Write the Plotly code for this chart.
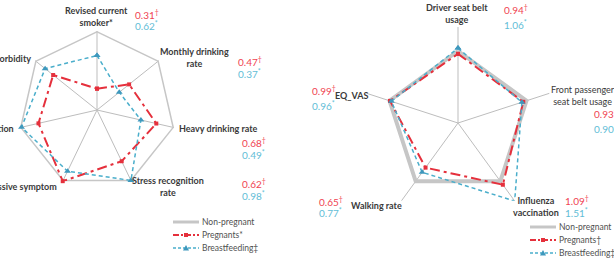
import plotly.graph_objects as go

W, H = 614, 260

# ---------------- data ----------------
left_axes = ["Revised current smoker", "Monthly drinking rate", "Heavy drinking rate",
             "Stress recognition rate", "Depressive symptom", "Suicidal ideation", "Comorbidity"]
left_nonpreg = [1, 1, 1, 1, 1, 1, 1]
left_preg = [0.27, 0.52, 0.77, 0.72, 1.00, 0.76, 0.71]
left_breast = [0.69, 0.36, 0.57, 0.99, 0.86, 0.98, 0.84]
left_preg_ratio = [0.31, 0.47, 0.68, 0.62]
left_breast_ratio = [0.62, 0.37, 0.49, 0.98]

right_axes = ["Driver seat belt usage", "Front passenger seat belt usage",
              "Influenza vaccination", "Walking rate", "EQ_VAS"]
right_nonpreg = [1, 1, 1, 1, 1]
right_preg = [0.94, 0.93, 1.09, 0.65, 0.99]
right_breast = [1.06, 0.90, 1.51, 0.77, 0.96]

series_names_left = ["Non-pregnant", "Pregnants*", "Breastfeeding\u2021"]
series_names_right = ["Non-pregnant", "Pregnants\u2020", "Breastfeeding\u2021"]

# ---------------- styles ----------------
GRAY = "#c6c6c6"
RED = "#e5303c"
BLUE = "#4aaecb"
RED_T = "#f04452"
BLUE_T = "#62bdd6"
LABEL = "#3a3a3a"
FONT = "Lato"


def px(x):
    return x / W


def py(y):
    return 1 - y / H


def closed(v):
    return list(v) + [v[0]]


fig = go.Figure()


def add_radar(subplot, axes, nonpreg, preg, breast, gray_w):
    th = closed(axes)
    fig.add_trace(go.Scatterpolar(r=closed(nonpreg), theta=th, mode="lines", subplot=subplot,
                                  line=dict(color=GRAY, width=gray_w), showlegend=False,
                                  cliponaxis=False))
    fig.add_trace(go.Scatterpolar(r=closed(preg), theta=th, mode="lines+markers", subplot=subplot,
                                  line=dict(color=RED, width=2, dash="10px,4px,3px,4px"),
                                  marker=dict(symbol="square", size=4, color=RED),
                                  showlegend=False, cliponaxis=False))
    fig.add_trace(go.Scatterpolar(r=closed(breast), theta=th, mode="lines+markers", subplot=subplot,
                                  line=dict(color=BLUE, width=1.5, dash="4px,3px"),
                                  marker=dict(symbol="triangle-up", size=6, color="#3e98bd"),
                                  showlegend=False, cliponaxis=False))


add_radar("polar", left_axes, left_nonpreg, left_preg, left_breast, 3)
add_radar("polar2", right_axes, right_nonpreg, right_preg, right_breast, 4)


def polar_cfg(cx, cy, R, rng, axes):
    return dict(
        domain=dict(x=[px(cx - R), px(cx + R)], y=[py(cy + R), py(cy - R)]),
        gridshape="linear",
        bgcolor="rgba(0,0,0,0)",
        radialaxis=dict(range=rng, visible=False, showgrid=False),
        angularaxis=dict(type="category", categoryarray=axes, direction="clockwise", rotation=90,
                         showgrid=True, gridcolor="#bdbdbd", gridwidth=1, showline=False,
                         showticklabels=False, ticks=""),
    )


annotations = []


def label(text, x, y, anchor="center", bold=True, color=LABEL, size=9):
    annotations.append(dict(text=("<b>%s</b>" % text) if bold else text, x=px(x), y=py(y),
                            xref="paper", yref="paper", xanchor=anchor, yanchor="middle",
                            showarrow=False, align="center",
                            font=dict(family=FONT, size=size, color=color)))


def ratio_pair(p, b, x, y1, y2, sym_p="\u2020", sym_b="*"):
    label("%.2f<sup>%s</sup>" % (p, sym_p), x, y1, "left", bold=False, color=RED_T, size=10)
    label("%.2f<sup>%s</sup>" % (b, sym_b), x, y2, "left", bold=False, color=BLUE_T, size=10)


# left chart axis labels
label("Revised current<br>smoker*", 97, 16)
label("Monthly drinking<br>rate", 195, 58)
label("Heavy drinking rate", 177, 128, "left")
label("Stress recognition<br>rate", 168, 186)
label("Depressive symptom", 59, 186, "right")
label("Suicidal ideation", 16, 128, "right")
label("Comorbidity", 33, 59, "right")

ratio_pair(left_preg_ratio[0], left_breast_ratio[0], 133, 14, 26)
ratio_pair(left_preg_ratio[1], left_breast_ratio[1], 236, 61, 73)
ratio_pair(left_preg_ratio[2], left_breast_ratio[2], 240, 142, 154)
ratio_pair(left_preg_ratio[3], left_breast_ratio[3], 240, 183, 195)

# right chart axis labels
label("Driver seat belt<br>usage", 457, 13)
label("Front passenger<br>seat belt usage", 583, 95, bold=False)
label("Influenza<br>vaccination", 536, 206)
label("Walking rate", 349, 205, "left")
label("EQ_VAS", 333, 95, "left")

ratio_pair(right_preg[0], right_breast[0], 502, 10, 25)
ratio_pair(right_preg[1], right_breast[1], 592, 113, 128)
ratio_pair(right_preg[2], right_breast[2], 563, 200, 212)
ratio_pair(right_preg[3], right_breast[3], 317, 201, 212)
ratio_pair(right_preg[4], right_breast[4], 310, 90, 105)

# manual legends
shapes = []


def legend(x0, y0, names):
    styles = [(GRAY, 3, "solid", None), (RED, 2, "6px,2px,2px,2px", "square"),
              (BLUE, 1.5, "3px,2px", "triangle")]
    for i, (name, st) in enumerate(zip(names, styles)):
        y = y0 + i * 13
        col, w, dash, mk = st
        shapes.append(dict(type="line", xref="paper", yref="paper", x0=px(x0), x1=px(x0 + 26),
                           y0=py(y), y1=py(y), line=dict(color=col, width=w, dash=dash)))
        xm = x0 + 13
        if mk == "square":
            shapes.append(dict(type="rect", xref="paper", yref="paper", x0=px(xm - 2), x1=px(xm + 2),
                               y0=py(y + 2), y1=py(y - 2), fillcolor=col, line=dict(width=0)))
        elif mk == "triangle":
            shapes.append(dict(type="path", xref="paper", yref="paper",
                               path="M %f,%f L %f,%f L %f,%f Z" % (px(xm - 3), py(y + 2.5), px(xm + 3), py(y + 2.5), px(xm), py(y - 3)),
                               fillcolor="#3e98bd", line=dict(width=0)))
        label(name, x0 + 27, y, "left", bold=False, color="#505050", size=8.5)


legend(173, 222, series_names_left)
legend(530, 227, series_names_right)

fig.update_layout(
    width=W, height=H, margin=dict(l=0, r=0, t=0, b=0),
    paper_bgcolor="white", plot_bgcolor="white",
    polar=polar_cfg(97, 110, 79, [0, 1], left_axes),
    polar2=polar_cfg(458, 123, 96, [-0.5, 1.5], right_axes),
    annotations=annotations, shapes=shapes, showlegend=False,
    font=dict(family=FONT),
)

fig.write_html("out.html")
